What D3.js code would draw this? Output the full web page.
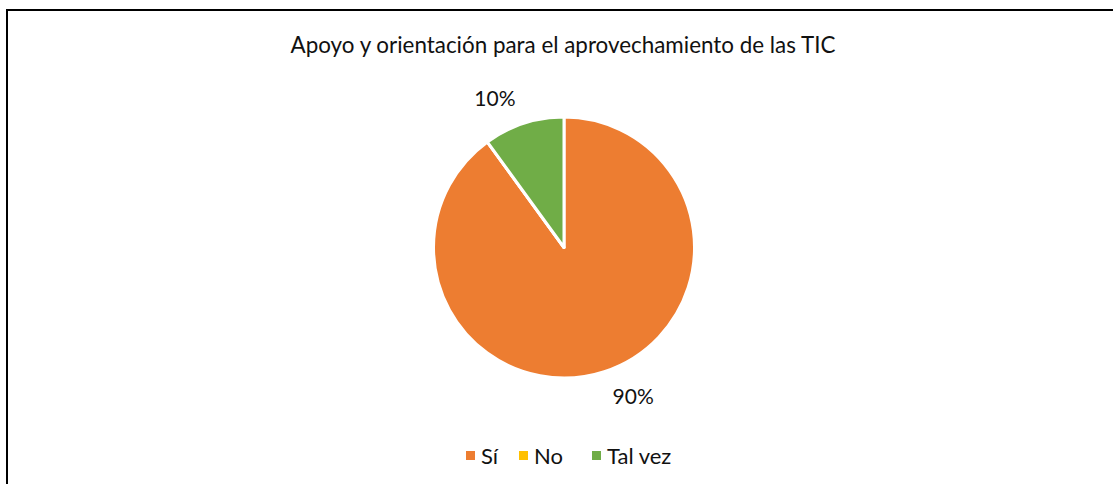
<!DOCTYPE html>
<html>
<head>
<meta charset="utf-8">
<script src="https://cdn.jsdelivr.net/npm/d3@7"></script>
<style>
  body { margin: 0; background: #fff; }
  text { font-family: Lato, "Open Sans", sans-serif; fill: #111; }
</style>
</head>
<body>
<svg width="1113" height="484"></svg>
<script>
var categories = ['Sí', 'No', 'Tal vez'];
var values = [90, 0, 10];
var colors = ['#ED7D31', '#FFC000', '#70AD47'];
var title = 'Apoyo y orientación para el aprovechamiento de las TIC';

function drawPie() {
  var svg = d3.select('svg');
  svg.selectAll('*').remove();

  // chart border (runs off the right and bottom of the picture)
  svg.append('rect')
    .attr('x', 7)
    .attr('y', 10)
    .attr('width', 1130)
    .attr('height', 500)
    .attr('fill', 'none')
    .attr('stroke', '#000')
    .attr('stroke-width', 2);

  svg.append('text')
    .attr('x', 563)
    .attr('y', 53)
    .attr('text-anchor', 'middle')
    .attr('font-size', 22.4)
    .text(title);

  var cx = 564, cy = 247.5, r = 130.5;
  var data = categories.map(function (c, i) {
    return { name: c, value: values[i], color: colors[i] };
  });
  var pie = d3.pie()
    .sort(null)
    .value(function (d) { return d.value; });
  var arc = d3.arc().innerRadius(0).outerRadius(r);
  var labelArc = d3.arc().innerRadius(157).outerRadius(157);

  var g = svg.append('g').attr('transform', 'translate(' + cx + ',' + cy + ')');
  var arcs = pie(data);
  g.selectAll('path')
    .data(arcs)
    .enter()
    .append('path')
    .attr('d', arc)
    .attr('fill', function (d) { return d.data.color; })
    .attr('stroke', '#fff')
    .attr('stroke-width', 3)
    .attr('stroke-linejoin', 'round');

  g.selectAll('.lbl')
    .data(arcs.filter(function (d) { return d.data.value > 0; }))
    .enter()
    .append('text')
    .attr('class', 'lbl')
    .attr('x', function (d) { return labelArc.centroid(d)[0]; })
    .attr('y', function (d) { return labelArc.centroid(d)[1]; })
    .attr('dy', '0.35em')
    .attr('font-size', 21)
    .attr('text-anchor', function (d) {
      return (d.startAngle + d.endAngle) / 2 > Math.PI ? 'end' : 'start';
    })
    .text(function (d) { return d.data.value + '%'; });

  // legend
  var legendX = [466, 519, 592];
  var legend = svg.append('g');
  var items = legend.selectAll('g')
    .data(data)
    .enter()
    .append('g')
    .attr('transform', function (d, i) { return 'translate(' + legendX[i] + ',455)'; });
  items.append('rect')
    .attr('x', 0)
    .attr('y', -4)
    .attr('width', 9)
    .attr('height', 9)
    .attr('fill', function (d) { return d.color; });
  items.append('text')
    .attr('x', 15)
    .attr('y', 1)
    .attr('dy', '0.35em')
    .attr('font-size', 22)
    .text(function (d) { return d.name; });
}

drawPie();
</script>
</body>
</html>
